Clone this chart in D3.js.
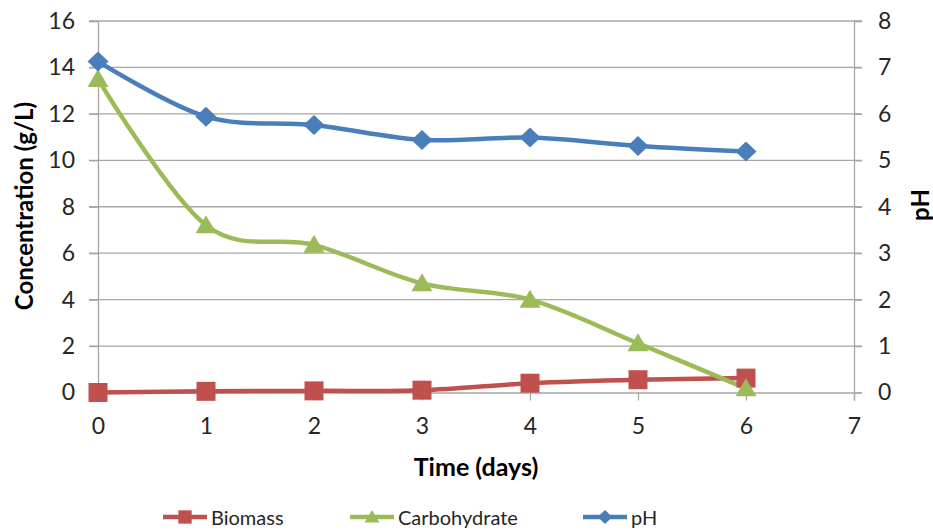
<!DOCTYPE html>
<html><head><meta charset="utf-8">
<script src="https://cdn.jsdelivr.net/npm/d3@7"></script>
<style>body{margin:0;background:#fff}svg{display:block}text{font-family:Lato,"Open Sans",sans-serif}</style>
</head><body><svg id="c" width="933" height="531"></svg>
<script>
const days = [0,1,2,3,4,5,6];
const biomass = [0, 0.05, 0.07, 0.1, 0.4, 0.55, 0.62];
const carbohydrate = [13.5, 7.2, 6.36, 4.7, 4.0, 2.12, 0.18];
const pH = [7.13, 5.94, 5.76, 5.44, 5.49, 5.31, 5.19];
const xTicks = [0,1,2,3,4,5,6,7];
const leftTicks = [0,2,4,6,8,10,12,14,16];
const rightTicks = [0,1,2,3,4,5,6,7,8];

const svg = d3.select("#c");
const x = d3.scaleLinear().domain([0,7]).range([98,854]);
const yL = d3.scaleLinear().domain([0,16]).range([392.5,21]);
const yR = d3.scaleLinear().domain([0,8]).range([392.5,21]);
const grid = "#a6a6a6";

svg.append("g").selectAll("line").data(leftTicks.slice(1)).join("line")
  .attr("x1",89).attr("x2",862).attr("y1",d=>yL(d)).attr("y2",d=>yL(d))
  .attr("stroke",grid).attr("stroke-width",1.3);
const axL = svg.append("g").attr("transform","translate(98,0)").call(d3.axisLeft(yL).tickValues(leftTicks).tickSize(9).tickPadding(14));
const axR = svg.append("g").attr("transform","translate(854,0)").call(d3.axisRight(yR).tickValues(rightTicks).tickSize(8).tickPadding(16));
const axB = svg.append("g").attr("transform","translate(0,392.5)").call(d3.axisBottom(x).tickValues(xTicks).tickFormat(d3.format("d")).tickSize(8).tickPadding(17));
[axL,axR,axB].forEach(a=>{
  a.selectAll("path").attr("stroke",grid).attr("stroke-width",1.3);
  a.selectAll("line").attr("stroke",grid).attr("stroke-width",1.3);
  a.selectAll("text").attr("font-size",23).attr("fill","#262626").attr("font-family","Lato,'Open Sans',sans-serif");
});

const series = [
  {name:"Biomass", vals:biomass, y:yL, color:"#C0504D", shape:"square"},
  {name:"Carbohydrate", vals:carbohydrate, y:yL, color:"#9BBB59", shape:"triangle"},
  {name:"pH", vals:pH, y:yR, color:"#4A7EBB", shape:"diamond"}
];
function shapePath(s, k){
  if(s==="square") return `M${-9.5*k},${-9.5*k}h${19*k}v${19*k}h${-19*k}Z`;
  if(s==="triangle") return `M0,${-10*k}L${10.5*k},${8*k}L${-10.5*k},${8*k}Z`;
  return `M0,${-10*k}L${10.5*k},0L0,${10*k}L${-10.5*k},0Z`;
}
series.forEach(s=>{
  const line = d3.line().x((d,i)=>x(days[i])).y(d=>s.y(d)).curve(d3.curveCardinal.tension(0));
  svg.append("path").datum(s.vals).attr("d",line).attr("fill","none")
    .attr("stroke",s.color).attr("stroke-width",4.5).attr("stroke-linejoin","round");
});
series.forEach(s=>{
  svg.append("g").selectAll("path").data(s.vals).join("path")
    .attr("transform",(d,i)=>`translate(${x(days[i])},${s.y(d)})`)
    .attr("d",shapePath(s.shape,1)).attr("fill",s.color);
});

svg.append("text").attr("transform","translate(33,206) rotate(-90)").attr("text-anchor","middle")
  .attr("font-size",24).attr("font-weight","bold").attr("fill","#000").text("Concentration (g/L)");
svg.append("text").attr("transform","translate(929,205) rotate(-90)").attr("text-anchor","middle")
  .attr("font-size",24).attr("font-weight","bold").attr("fill","#000").text("pH");
svg.append("text").attr("x",476).attr("y",476).attr("text-anchor","middle")
  .attr("font-size",25).attr("font-weight","bold").attr("fill","#000").text("Time (days)");

const legX = [163, 350, 583];
series.forEach((s,i)=>{
  const g = svg.append("g").attr("transform",`translate(${legX[i]},517)`);
  g.append("line").attr("x1",0).attr("x2",44).attr("stroke",s.color).attr("stroke-width",4.5);
  g.append("path").attr("transform","translate(22,0)").attr("d",shapePath(s.shape,0.7)).attr("fill",s.color);
  g.append("text").attr("x",48).attr("y",8).attr("font-size",20).attr("fill","#262626").text(s.name);
});
</script></body></html>
